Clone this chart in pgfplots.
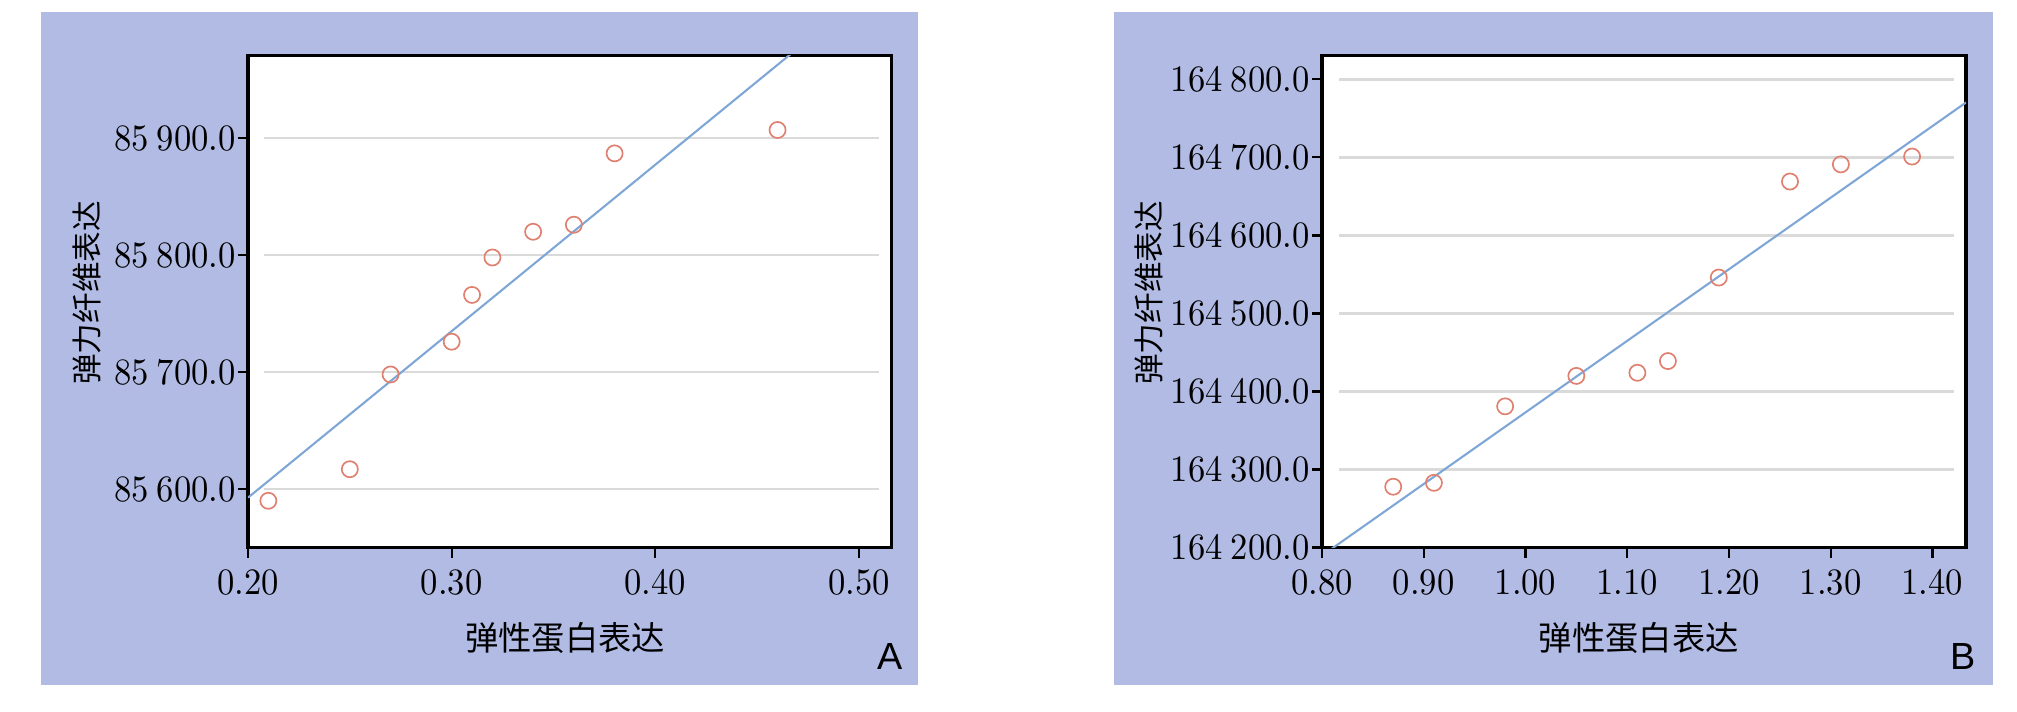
\documentclass[border=0pt]{standalone}
\usepackage{pgfplots}
\usepackage{pgfplotstable}
\pgfplotsset{compat=1.18}
\usepackage{fontspec}
\newfontfamily\tickfont{lmroman10-regular.otf}[FakeStretch=0.93]
\newfontfamily\cjk{Noto Sans CJK SC}
\newfontfamily\sansf{Liberation Sans}
\definecolor{bgc}{RGB}{177,187,228}
\definecolor{gridc}{RGB}{218,218,218}
\definecolor{linec}{RGB}{126,166,214}
\definecolor{markc}{RGB}{224,128,112}

\pgfplotstableread{
x y
0.21 85590
0.25 85617
0.27 85698
0.30 85726
0.31 85766
0.32 85798
0.34 85820
0.36 85826
0.38 85887
0.46 85907
}\dataA
\pgfplotstableread{
x y
0.87 164278
0.91 164283
0.98 164381
1.05 164420
1.11 164424
1.14 164439
1.19 164546
1.26 164669
1.31 164691
1.38 164701
}\dataB

\pgfplotsset{
  mystyle/.style={
    scale only axis, width=231.7pt, height=177.3pt,
    anchor=south west,
    axis background/.style={fill=white},
    axis line style={black, line width=1.1pt},
    tick align=outside, xtick pos=left, ytick pos=left,
    major tick length=3.6pt,
    tick style={black, line width=0.8pt},
    /pgf/number format/assume math mode=true,
    tick label style={font=\tickfont\fontsize{13.4pt}{15pt}\selectfont},
    scaled y ticks=false, scaled x ticks=false,
    xticklabel style={/pgf/number format/.cd, fixed, fixed zerofill, precision=2, /tikz/.cd, inner ysep=4pt},
    yticklabel style={/pgf/number format/.cd, fixed, fixed zerofill, precision=1, 1000 sep={\hspace{0.22em}}, /tikz/.cd, inner xsep=0.6pt},
    xlabel style={font=\cjk\fontsize{12pt}{14pt}\selectfont, anchor=center},
    ylabel style={font=\cjk\fontsize{11pt}{13pt}\selectfont, anchor=center},
    xlabel={弹性蛋白表达}, ylabel={弹力纤维表达},
  },
  gl/.style={gridc, line width=0.9pt, forget plot},
  rl/.style={linec, line width=0.75pt, forget plot},
  pts/.style={only marks, mark=o, mark size=2.9pt, mark options={markc, line width=0.6pt}},
}

\begin{document}
\begin{tikzpicture}
\useasboundingbox (0,0) rectangle (726.12pt,256.32pt);
\fill[white] (0,0) rectangle (726.12pt,256.32pt);
\fill[bgc] (14.76pt,9.72pt) rectangle (330.48pt,252pt);
\fill[bgc] (401.04pt,9.72pt) rectangle (717.48pt,252pt);

\begin{axis}[mystyle, at={(89.28pt,59.18pt)},
  xmin=0.2, xmax=0.516, ymin=85550, ymax=85971,
  xtick={0.2,0.3,0.4,0.5}, ytick={85600,85700,85800,85900},
  xlabel style={at={(axis description cs:0.493,-0.183)}},
  ylabel style={at={(axis description cs:-0.250,0.517)}},
]
\addplot[gl] coordinates {(0.2079,85600) (0.5099,85600)};
\addplot[gl] coordinates {(0.2079,85700) (0.5099,85700)};
\addplot[gl] coordinates {(0.2079,85800) (0.5099,85800)};
\addplot[gl] coordinates {(0.2079,85900) (0.5099,85900)};
\addplot[rl] coordinates {(0.2,85592.7) (0.516,86042.4)};
\addplot[pts] table[x=x,y=y] {\dataA};
\end{axis}

\begin{axis}[mystyle, at={(475.92pt,59.18pt)}, width=231.84pt,
  xmin=0.8, xmax=1.433, ymin=164200, ymax=164831,
  xtick={0.8,0.9,1.0,1.1,1.2,1.3,1.4},
  ytick={164200,164300,164400,164500,164600,164700,164800},
  xlabel style={at={(axis description cs:0.492,-0.183)}},
  ylabel style={at={(axis description cs:-0.268,0.517)}},
]
\addplot[gl] coordinates {(0.8171,164300) (1.4213,164300)};
\addplot[gl] coordinates {(0.8171,164400) (1.4213,164400)};
\addplot[gl] coordinates {(0.8171,164500) (1.4213,164500)};
\addplot[gl] coordinates {(0.8171,164600) (1.4213,164600)};
\addplot[gl] coordinates {(0.8171,164700) (1.4213,164700)};
\addplot[gl] coordinates {(0.8171,164800) (1.4213,164800)};
\addplot[rl] coordinates {(0.8,164189.8) (1.433,164770.3)};
\addplot[pts] table[x=x,y=y] {\dataB};
\end{axis}

\node[anchor=base east, inner sep=0pt, font=\sansf\fontsize{13.6pt}{16pt}\selectfont] at (325.08pt,15.12pt) {A};
\node[anchor=base east, inner sep=0pt, font=\sansf\fontsize{13.6pt}{16pt}\selectfont] at (711.36pt,15.12pt) {B};
\end{tikzpicture}
\end{document}
